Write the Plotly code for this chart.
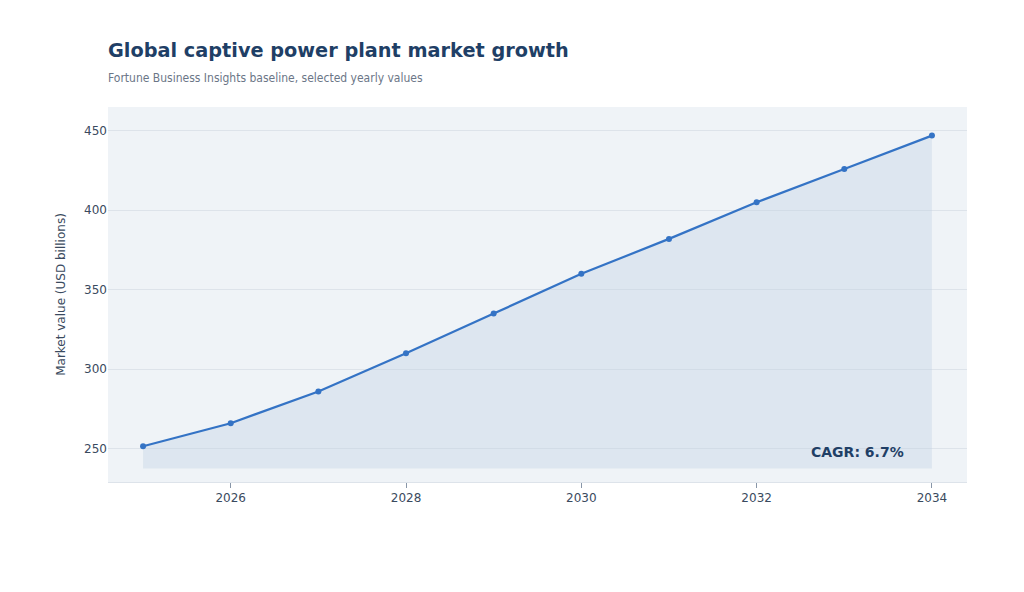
import plotly.graph_objects as go

years = [2025, 2026, 2027, 2028, 2029, 2030, 2031, 2032, 2033, 2034]
market_value = [251.5, 266, 286, 310, 335, 360, 382, 405, 426, 447]
fill_floor = 237.5
cagr_label = "CAGR: 6.7%"

fig = go.Figure()
fig.add_trace(go.Scatter(x=years, y=[fill_floor] * len(years), mode="lines",
                         line=dict(width=0), hoverinfo="skip", showlegend=False))
fig.add_trace(go.Scatter(x=years, y=market_value, mode="lines+markers",
                         fill="tonexty", fillcolor="rgba(190,205,225,0.35)",
                         line=dict(color="#3473c5", width=2.2),
                         marker=dict(size=6, color="#3473c5"), showlegend=False))

fig.add_annotation(x=years[-1] - 0.3, y=248, text=f"<b>{cagr_label}</b>", showarrow=False,
                   xanchor="right", font=dict(family="DejaVu Sans", size=14, color="#1f3f66"))

fig.update_layout(
    width=1024, height=592,
    paper_bgcolor="white", plot_bgcolor="#eff3f7",
    margin=dict(l=100, r=65, t=99, b=118),
    title=dict(text="<b>Global captive power plant market growth</b>"
                    "<br><span style='font-size:12px;color:#6b7687;font-family:DejaVu Sans Condensed'>"
                    "Fortune Business Insights baseline, selected yearly values</span>",
               x=100 / 1024, xanchor="left", y=0.918, yanchor="top",
               font=dict(family="DejaVu Sans", size=19.3, color="#1f3f66")),
    font=dict(family="DejaVu Sans", size=12, color="#3a4a5e"),
)
fig.update_xaxes(range=[2024.6, 2034.4], tickvals=[2026, 2028, 2030, 2032, 2034],
                 showgrid=False, ticks="outside", ticklen=5, tickcolor="#8896a8",
                 showline=True, linecolor="#dde3ea", zeroline=False)
fig.update_yaxes(range=[229, 465], tickvals=[250, 300, 350, 400, 450],
                 gridcolor="#dde3ea", zeroline=False,
                 title=dict(text="Market value (USD billions)", font=dict(size=12)))

fig.write_html("out.html")
